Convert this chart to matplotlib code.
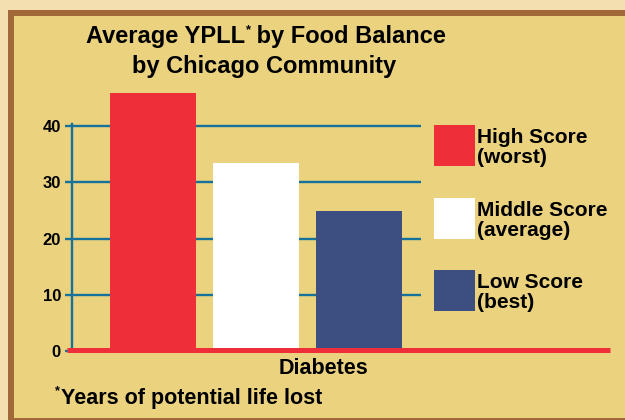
import matplotlib
matplotlib.use("Agg")
import matplotlib.pyplot as plt
from matplotlib import font_manager
from matplotlib.patches import Rectangle

# Data
groups = ["High Score\n(worst)", "Middle Score\n(average)", "Low Score\n(best)"]
ypll = [46, 33.5, 25]
bar_colors = ["#EE2F3A", "#FFFFFF", "#3D4E80"]
yticks = [0, 10, 20, 30, 40]
category = "Diabetes"

OUTER = "#F3DFAF"
BROWN = "#A1683A"
INNER = "#EAD27F"
TEAL = "#17729B"
RED = "#EE2F3A"

plt.rcParams["font.family"] = ["Liberation Sans", "DejaVu Sans"]
plt.rcParams["font.weight"] = "bold"

# title is set in a condensed face in the original; use one if the system has it
installed = {f.name for f in font_manager.fontManager.ttflist}
if "Liberation Sans Narrow" in installed:
    title_font, title_size = "Liberation Sans Narrow", 20
else:
    title_font, title_size = "Liberation Sans", 17

W, H = 625, 420
fig = plt.figure(figsize=(W / 100, H / 100), dpi=100, facecolor=OUTER)

# background layer in pixel units (frame, title, legend, notes)
bg = fig.add_axes([0, 0, 1, 1], zorder=0)
bg.set_xlim(0, W)
bg.set_ylim(H, 0)
bg.axis("off")
bg.add_patch(Rectangle((8, 10), W, 410, facecolor=BROWN, edgecolor="none"))
bg.add_patch(Rectangle((13.5, 15.5), W, 402, facecolor=INNER, edgecolor="none"))


def title_line(y, parts, cx):
    # lay out text pieces side by side, then shift the group so it is centred on cx
    fig.canvas.draw()
    r = fig.canvas.get_renderer()
    arts, x = [], 0
    for txt, size, dy in parts:
        t = bg.text(x, y + dy, txt, ha="left", va="baseline", fontsize=size,
                    family=[title_font, "DejaVu Sans"], fontweight="bold")
        w = t.get_window_extent(r).width
        arts.append((t, x))
        x += w
    shift = cx - x / 2
    for t, x0 in arts:
        t.set_x(x0 + shift)


title_line(43, [("Average YPLL", title_size, 0), ("*", title_size * 0.55, -10),
                (" by Food Balance", title_size, 0)], 266)
title_line(72.5, [("by Chicago Community", title_size, 0)], 264)

# legend
for i, (lab, col) in enumerate(zip(groups, bar_colors)):
    top = 125 + i * 72.5
    bg.add_patch(Rectangle((434, top), 41, 41, facecolor=col, edgecolor="none"))
    l1, l2 = lab.split("\n")
    bg.text(477, top + 18, l1, ha="left", va="baseline", fontsize=15, fontweight="bold")
    bg.text(477, top + 38, l2, ha="left", va="baseline", fontsize=15, fontweight="bold")

bg.text(54.5, 394, "*", ha="left", va="baseline", fontsize=9, fontweight="bold")
bg.text(61, 404, "Years of potential life lost", ha="left", va="baseline",
        fontsize=15.5, fontweight="bold")
bg.text(323, 374, category, ha="center", va="baseline", fontsize=15.5, fontweight="bold")

# main chart
ax = fig.add_axes([72 / W, (H - 351) / H, 349 / W, 227 / H], zorder=1)
ax.patch.set_alpha(0)
x = list(range(len(ypll)))
ax.bar(x, ypll, width=0.835, color=bar_colors, zorder=3, clip_on=False)
ax.set_xlim(-0.787, 2.6)
ax.set_ylim(0, 40.4)
ax.set_yticks(yticks)
ax.set_yticklabels([str(t) for t in yticks], fontsize=12, fontweight="bold")
ax.tick_params(axis="y", length=5, width=1.7, color=TEAL, pad=3)
ax.set_xticks([])
ax.yaxis.grid(True, color=TEAL, linewidth=1.7, zorder=1)
ax.set_axisbelow(True)
for s in ["top", "right", "bottom"]:
    ax.spines[s].set_visible(False)
ax.spines["left"].set_color(TEAL)
ax.spines["left"].set_linewidth(1.7)

# red baseline running under the legend
ax.plot([-0.837, 4.43], [0.25, 0.25], color=RED, linewidth=3.6, zorder=4,
        clip_on=False, solid_capstyle="butt")

fig.savefig("out.png", dpi=100, facecolor=OUTER)
